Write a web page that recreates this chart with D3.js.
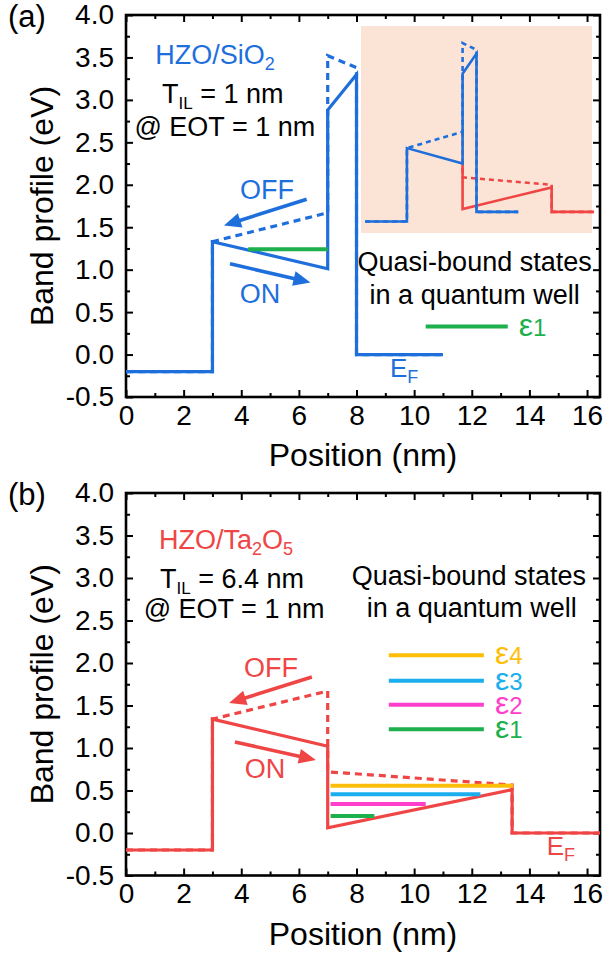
<!DOCTYPE html>
<html>
<head>
<meta charset="utf-8">
<script src="https://cdn.jsdelivr.net/npm/d3@7"></script>
<style>
  body { margin: 0; background: #fff; }
  svg text { font-family: "Liberation Sans", Arial, sans-serif; }
</style>
</head>
<body>
<svg id="fig" width="608" height="958"></svg>
<script>
// band profiles as [position (nm), energy (eV)]
var sio2On  = [[0,-0.2],[3,-0.2],[3,1.33],[7,1.01],[7,2.88],[8,3.30],[8,0],[11,0]];
var sio2Off = [[0,-0.2],[3,-0.2],[3,1.33],[7,1.67],[7,3.52],[8,3.38],[8,0],[11,0]];
var ta2o5On  = [[0,-0.2],[3,-0.2],[3,1.34],[7,1.02],[7,0.06],[13.4,0.51],[13.4,0],[16.45,0]];
var ta2o5Off = [[0,-0.2],[3,-0.2],[3,1.34],[7,1.67],[7,0.72],[13.4,0.565],[13.4,0],[16.45,0]];

// quasi-bound state levels: energy, start and end position
var levelsA = [{n: "1", e: 1.24, x0: 4.24, x1: 7.0}];
var levelsB = [
  {n: "1", e: 0.20,  x0: 7.1, x1: 8.62},
  {n: "2", e: 0.34,  x0: 7.1, x1: 10.4},
  {n: "3", e: 0.455, x0: 7.1, x1: 12.3},
  {n: "4", e: 0.555, x0: 7.1, x1: 13.44}
];

var xTicks = [0,2,4,6,8,10,12,14,16];
var xMinor = [1,3,5,7,9,11,13,15];
var yTicks = [-0.5,0,0.5,1,1.5,2,2.5,3,3.5,4];
var yMinor = [-0.25,0.25,0.75,1.25,1.75,2.25,2.75,3.25,3.75];

var blue = "#1e6fdc", red = "#ef4545";
var levelColors = {"1": "#1db04d", "2": "#ff3fcb", "3": "#1aaeee", "4": "#fdbe0a"};

var svg = d3.select("#fig");
var line = function(x, y) {
  return d3.line().x(function(d) { return x(d[0]); }).y(function(d) { return y(d[1]); });
};

function arrow(g, x, y, p0, p1, color) {
  var x0 = x(p0[0]), y0 = y(p0[1]), x1 = x(p1[0]), y1 = y(p1[1]);
  var a = Math.atan2(y1 - y0, x1 - x0), L = 17, W = 7.5;
  var bx = x1 - L * Math.cos(a), by = y1 - L * Math.sin(a);
  g.append("line").attr("x1", x0).attr("y1", y0).attr("x2", bx + 2 * Math.cos(a)).attr("y2", by + 2 * Math.sin(a))
    .attr("stroke", color).attr("stroke-width", 3.6);
  g.append("path")
    .attr("d", "M" + x1 + "," + y1 +
      "L" + (bx + W * Math.sin(a)) + "," + (by - W * Math.cos(a)) +
      "L" + (bx - W * Math.sin(a)) + "," + (by + W * Math.cos(a)) + "Z")
    .attr("fill", color);
}

function subText(g, x, y, parts, color, anchor) {
  var t = g.append("text").attr("x", x).attr("y", y).attr("fill", color)
    .attr("text-anchor", anchor || "middle");
  parts.forEach(function(p) {
    t.append("tspan").text(p[0]).attr("font-size", p[1]).attr("dy", p[2] || 0);
  });
  return t;
}

function panel(top, bottom, label) {
  var g = svg.append("g");
  var x = d3.scaleLinear().domain([0, 16.45]).range([126, 600]);
  var y = d3.scaleLinear().domain([-0.5, 4.0]).range([bottom, top]);

  function styleAxis(a) {
    a.select(".domain").remove();
    a.selectAll("line").attr("stroke", "#000").attr("stroke-width", 2);
    a.attr("font-size", 28).attr("font-family", "Liberation Sans, Arial, sans-serif");
    a.selectAll("text").attr("fill", "#000");
  }
  g.append("g").attr("transform", "translate(0," + bottom + ")")
    .call(d3.axisBottom(x).tickValues(xTicks).tickSizeInner(-7).tickSizeOuter(0).tickPadding(8)
      .tickFormat(d3.format("d"))).call(styleAxis);
  g.append("g").attr("transform", "translate(0," + bottom + ")")
    .call(d3.axisBottom(x).tickValues(xMinor).tickSizeInner(-4).tickSizeOuter(0).tickFormat("")).call(styleAxis);
  g.append("g").attr("transform", "translate(0," + top + ")")
    .call(d3.axisTop(x).tickValues(xTicks).tickSizeInner(-7).tickSizeOuter(0).tickFormat("")).call(styleAxis);
  g.append("g").attr("transform", "translate(0," + top + ")")
    .call(d3.axisTop(x).tickValues(xMinor).tickSizeInner(-4).tickSizeOuter(0).tickFormat("")).call(styleAxis);
  g.append("g").attr("transform", "translate(126,0)")
    .call(d3.axisLeft(y).tickValues(yTicks).tickSizeInner(-7).tickSizeOuter(0).tickPadding(12)
      .tickFormat(function(d) { return d.toFixed(1); })).call(styleAxis);
  g.append("g").attr("transform", "translate(126,0)")
    .call(d3.axisLeft(y).tickValues(yMinor).tickSizeInner(-4).tickSizeOuter(0).tickFormat("")).call(styleAxis);
  g.append("g").attr("transform", "translate(600,0)")
    .call(d3.axisRight(y).tickValues(yTicks).tickSizeInner(-7).tickSizeOuter(0).tickFormat("")).call(styleAxis);
  g.append("g").attr("transform", "translate(600,0)")
    .call(d3.axisRight(y).tickValues(yMinor).tickSizeInner(-4).tickSizeOuter(0).tickFormat("")).call(styleAxis);

  g.append("rect").attr("x", 126).attr("y", top).attr("width", 474).attr("height", bottom - top)
    .attr("fill", "none").attr("stroke", "#000").attr("stroke-width", 2.6);

  g.append("text").attr("x", 363).attr("y", bottom + 69).attr("text-anchor", "middle")
    .attr("font-size", 32).text("Position (nm)");
  g.append("text").attr("transform", "translate(53," + (top + bottom) / 2 + ") rotate(-90)")
    .attr("text-anchor", "middle").attr("font-size", 32).text("Band profile (eV)");
  g.append("text").attr("x", 27).attr("y", top + 12).attr("text-anchor", "middle")
    .attr("font-size", 31).text(label);
  return {g: g, x: x, y: y};
}

function profile(p, on, off, color, w, dash) {
  p.g.append("path").attr("d", line(p.x, p.y)(on)).attr("fill", "none")
    .attr("stroke", color).attr("stroke-width", w);
  p.g.append("path").attr("d", line(p.x, p.y)(off)).attr("fill", "none")
    .attr("stroke", color).attr("stroke-width", w).attr("stroke-dasharray", dash);
}

function levels(p, data) {
  p.g.selectAll(null).data(data).enter().append("line")
    .attr("x1", function(d) { return p.x(d.x0); }).attr("x2", function(d) { return p.x(d.x1); })
    .attr("y1", function(d) { return p.y(d.e); }).attr("y2", function(d) { return p.y(d.e); })
    .attr("stroke", function(d) { return levelColors[d.n]; }).attr("stroke-width", 4);
}

function legend(p, data, ys, x0, x1) {
  data.forEach(function(d, i) {
    p.g.append("line").attr("x1", p.x(x0)).attr("x2", p.x(x1))
      .attr("y1", p.y(ys[i])).attr("y2", p.y(ys[i]))
      .attr("stroke", levelColors[d.n]).attr("stroke-width", 4);
    subText(p.g, p.x(x1) + 11, p.y(ys[i]) + 9, [["\u03b5", 32], [d.n, 24]], levelColors[d.n], "start");
  });
}

// ---------- panel (a)
var a = panel(15, 397, "(a)");
profile(a, sio2On, sio2Off, blue, 3.2, "7,5");
levels(a, levelsA);
arrow(a.g, a.x, a.y, [6.27, 1.83], [3.40, 1.52], blue);
arrow(a.g, a.x, a.y, [3.61, 1.07], [6.40, 0.85], blue);
a.g.append("text").attr("x", a.x(4.89)).attr("y", a.y(1.83)).attr("text-anchor", "middle")
  .attr("font-size", 27).attr("fill", blue).text("OFF");
a.g.append("text").attr("x", a.x(4.65)).attr("y", a.y(0.61)).attr("text-anchor", "middle")
  .attr("font-size", 27).attr("fill", blue).text("ON");
subText(a.g, a.x(3.09), a.y(3.42), [["HZO/SiO", 27], ["2", 18, 6]], blue);
subText(a.g, a.x(3.36), a.y(2.96), [["T", 27], ["IL", 17, 6], [" = 1 nm", 27, -6]], "#000");
subText(a.g, a.x(3.43), a.y(2.57), [["@ EOT = 1 nm", 27]], "#000");
subText(a.g, a.x(12.1), a.y(0.98), [["Quasi-bound states", 27]], "#000");
subText(a.g, a.x(12.1), a.y(0.60), [["in a quantum well", 27]], "#000");
subText(a.g, a.x(9.16), a.y(-0.27), [["E", 26], ["F", 18, 6]], blue, "start");
legend(a, levelsA, [0.33], 10.4, 13.25);

// inset
var inset = {g: a.g.append("g"),
  x: d3.scaleLinear().domain([-0.3, 16.3]).range([361, 592]),
  y: d3.scaleLinear().domain([-0.44, 3.875]).range([233, 26])};
inset.g.append("rect").attr("x", 361).attr("y", 26).attr("width", 231).attr("height", 207)
  .attr("fill", "#fbe4d5");
var fromWell = function(d) { return d[0] >= 7; };
profile(inset, ta2o5On.filter(fromWell), ta2o5Off.filter(fromWell), red, 2.6, "5,4");
profile(inset, sio2On, sio2Off, blue, 2.6, "5,4");

// ---------- panel (b)
var b = panel(493, 875.5, "(b)");
profile(b, ta2o5On, ta2o5Off, red, 3.2, "7,5");
levels(b, levelsB);
arrow(b.g, b.x, b.y, [6.45, 1.835], [3.58, 1.53], red);
arrow(b.g, b.x, b.y, [3.78, 1.07], [6.59, 0.86], red);
b.g.append("text").attr("x", b.x(5.03)).attr("y", b.y(1.84)).attr("text-anchor", "middle")
  .attr("font-size", 27).attr("fill", red).text("OFF");
b.g.append("text").attr("x", b.x(4.82)).attr("y", b.y(0.65)).attr("text-anchor", "middle")
  .attr("font-size", 27).attr("fill", red).text("ON");
subText(b.g, b.x(3.47), b.y(3.34), [["HZO/Ta", 27], ["2", 18, 6], ["O", 27, -6], ["5", 18, 6]], red);
subText(b.g, b.x(3.68), b.y(2.88), [["T", 27], ["IL", 17, 6], [" = 6.4 nm", 27, -6]], "#000");
subText(b.g, b.x(3.75), b.y(2.53), [["@ EOT = 1 nm", 27]], "#000");
subText(b.g, b.x(11.9), b.y(2.92), [["Quasi-bound states", 27]], "#000");
subText(b.g, b.x(12.0), b.y(2.54), [["in a quantum well", 27]], "#000");
subText(b.g, b.x(14.6), b.y(-0.26), [["E", 26], ["F", 18, 6]], red, "start");
legend(b, levelsB.slice().reverse(), [2.09, 1.79, 1.51, 1.22], 9.12, 12.42);
</script>
</body>
</html>
